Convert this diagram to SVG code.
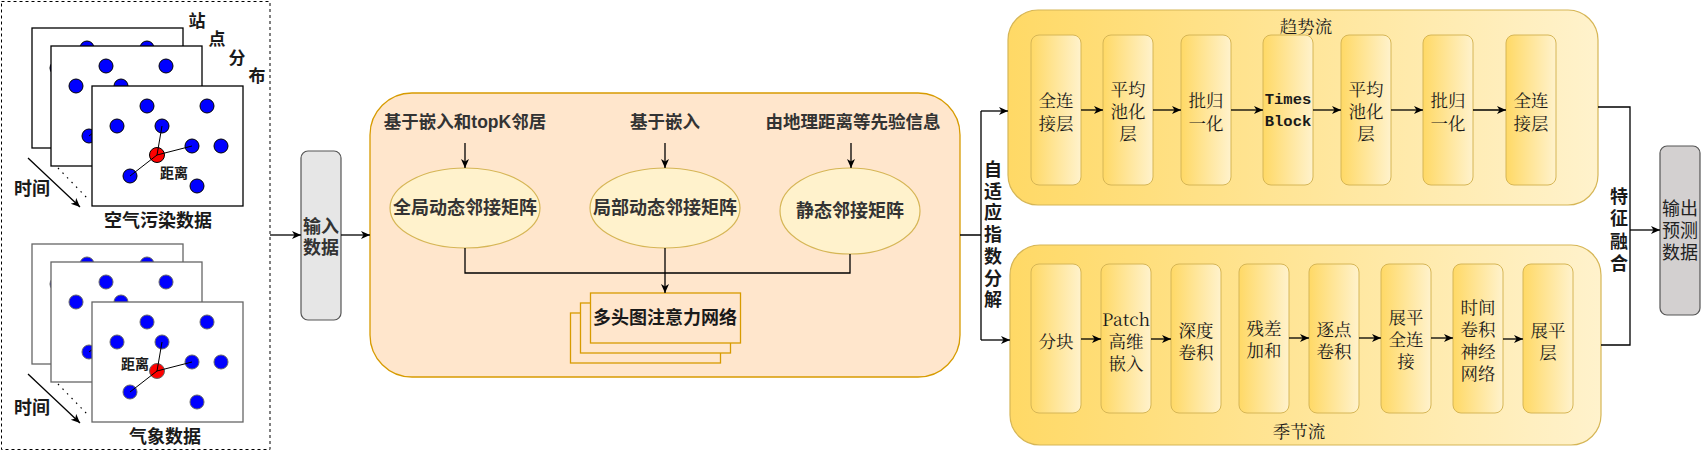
<svg xmlns="http://www.w3.org/2000/svg" xmlns:xlink="http://www.w3.org/1999/xlink" width="1702" height="457" viewBox="0 0 1702 457">
<defs>
  <style>
    .sb{font-family:"Liberation Sans","Noto Sans CJK SC",sans-serif;font-weight:bold;fill:#1a1a1a;}
    .sg{font-family:"Liberation Sans","Noto Sans CJK SC",sans-serif;font-weight:bold;fill:#333;}
    .sn{font-family:"Liberation Sans","Noto Sans CJK SC",sans-serif;font-weight:normal;fill:#222;}
    .sr{font-family:"Noto Serif CJK SC","Liberation Serif","Noto Sans CJK SC",serif;font-size:17.5px;fill:#1a1a1a;}
    .mono{font-family:"Liberation Mono","Noto Sans CJK SC",monospace;font-weight:bold;font-size:15.5px;fill:#1a1a1a;}
    .c{text-anchor:middle;dominant-baseline:central;}
    .ln{fill:none;stroke:#000;stroke-width:1.3;}
    .arr{fill:none;stroke:#000;stroke-width:1.3;marker-end:url(#ah);}
    .ell{fill:#fff2cc;stroke:#d6b656;stroke-width:1.2;}
    .mh{fill:#ffe6cc;stroke:#d79b00;stroke-width:1.3;}
    .panel{fill:url(#gy);stroke:#d6b656;stroke-width:1.2;}
    .ib{fill:url(#gy);stroke:#d6b656;stroke-width:1;}
    .dot{fill:#0000ff;}
  </style>
  <linearGradient id="gy" x1="0" y1="0" x2="1" y2="0">
    <stop offset="0" stop-color="#ffd966"/>
    <stop offset="1" stop-color="#fff2cc"/>
  </linearGradient>
  <marker id="ah" markerUnits="userSpaceOnUse" markerWidth="10" markerHeight="10" refX="9" refY="5" orient="auto">
    <path d="M0,1 L9,5 L0,9 L2.5,5 z" fill="#000"/>
  </marker>
  <g id="frame">
    <rect x="0" y="0" width="151" height="120" fill="#fff" stroke-width="1.3"/>
    <circle class="dot" cx="55" cy="20" r="7"/>
    <circle class="dot" cx="115" cy="20" r="7"/>
    <circle class="dot" cx="25" cy="40" r="7"/>
    <circle class="dot" cx="70" cy="40" r="7"/>
    <circle class="dot" cx="100" cy="60" r="7"/>
    <circle class="dot" cx="129" cy="60" r="7"/>
    <circle class="dot" cx="38" cy="90" r="7"/>
    <circle class="dot" cx="105" cy="100" r="7"/>
    <circle cx="65" cy="69" r="7.5" fill="#ff0000"/>
    <path d="M65,69 L70,40 M65,69 L100,60 M65,69 L38,90" stroke="#000" stroke-width="1" fill="none"/>
  </g>
</defs>
<rect width="1702" height="457" fill="#fff"/>

<!-- Left input illustration -->
<g id="data-illustration">
  <rect x="1.5" y="1.5" width="268.5" height="448" fill="none" stroke="#000" stroke-width="1" stroke-dasharray="3 3"/>
  <g stroke="#000">
    <use xlink:href="#frame" x="32" y="28"/>
    <use xlink:href="#frame" x="51" y="46"/>
    <use xlink:href="#frame" x="92" y="86"/>
  </g>
  <g stroke="#666">
    <use xlink:href="#frame" x="32" y="244"/>
    <use xlink:href="#frame" x="51" y="262"/>
    <use xlink:href="#frame" x="92" y="302"/>
  </g>
  <text class="sb c" x="174" y="173" font-size="14">距离</text>
  <text class="sb c" x="135" y="364" font-size="14">距离</text>
  <g class="sb c" font-size="17">
    <text x="197" y="21">站</text>
    <text x="217" y="39">点</text>
    <text x="237" y="58">分</text>
    <text x="257" y="76">布</text>
  </g>
  <g class="sb c" font-size="18">
    <text x="32" y="189">时间</text>
    <text x="32" y="408">时间</text>
    <text x="158" y="221">空气污染数据</text>
    <text x="165" y="437">气象数据</text>
  </g>
  <path class="arr" d="M28,158 L80,207"/>
  <path class="arr" d="M28,374 L80,423"/>
  <path d="M58,168 L88,199 M58,384 L88,415" stroke="#000" stroke-width="1.2" stroke-dasharray="1.5 5" fill="none"/>
</g>

<!-- Input node -->
<g id="input-node">
  <rect x="301" y="151" width="40" height="169" rx="7" fill="#e6e6e6" stroke="#555" stroke-width="1.2"/>
  <text class="sg c" x="321" y="227" font-size="18"><tspan x="321" y="227">输入</tspan><tspan x="321" y="248">数据</tspan></text>
</g>

<!-- Graph panel -->
<g id="graph-panel">
  <rect x="370" y="93" width="590" height="284" rx="42" fill="#ffe6cc" stroke="#d79b00" stroke-width="1.3"/>
  <text class="sg c" x="465" y="122" font-size="17.5">基于嵌入和topK邻居</text>
  <text class="sg c" x="665" y="122" font-size="17.5">基于嵌入</text>
  <text class="sg c" x="853" y="122" font-size="17.5">由地理距离等先验信息</text>
</g>
<g id="global-adj">
  <ellipse class="ell" cx="465" cy="208" rx="75" ry="40"/>
  <text class="sg c" x="465" y="208" font-size="18">全局动态邻接矩阵</text>
</g>
<g id="local-adj">
  <ellipse class="ell" cx="665" cy="208" rx="75" ry="40"/>
  <text class="sg c" x="665" y="208" font-size="18">局部动态邻接矩阵</text>
</g>
<g id="static-adj">
  <ellipse class="ell" cx="850" cy="211" rx="70" ry="43"/>
  <text class="sg c" x="850" y="211" font-size="18">静态邻接矩阵</text>
</g>
<g id="multihead-gat">
  <rect class="mh" x="570.5" y="313" width="150" height="50"/>
  <rect class="mh" x="580.5" y="303" width="150" height="50"/>
  <rect class="mh" x="590.5" y="293" width="150" height="50"/>
  <text class="sb c" x="665" y="318" font-size="18">多头图注意力网络</text>
</g>

<!-- Decomposition label -->
<g id="decomp-label">
  <text class="sb c" font-size="18"><tspan x="993" y="170">自</tspan><tspan x="993" y="192">适</tspan><tspan x="993" y="213">应</tspan><tspan x="993" y="235">指</tspan><tspan x="993" y="257">数</tspan><tspan x="993" y="279">分</tspan><tspan x="993" y="300">解</tspan></text>
</g>

<!-- Trend stream -->
<g id="trend-stream">
  <rect class="panel" x="1008" y="10" width="590" height="195" rx="30"/>
  <text class="sr c" x="1306" y="25">趋势流</text>
</g>
<g id="t1"><rect class="ib" x="1031" y="35" width="50" height="150" rx="8"/>
  <text class="sr c"><tspan x="1056" y="99">全连</tspan><tspan x="1056" y="122">接层</tspan></text></g>
<g id="t2"><rect class="ib" x="1103" y="35" width="50" height="150" rx="8"/>
  <text class="sr c"><tspan x="1128" y="88">平均</tspan><tspan x="1128" y="110">池化</tspan><tspan x="1128" y="132">层</tspan></text></g>
<g id="t3"><rect class="ib" x="1181" y="35" width="50" height="150" rx="8"/>
  <text class="sr c"><tspan x="1206" y="99">批归</tspan><tspan x="1206" y="122">一化</tspan></text></g>
<g id="t4"><rect class="ib" x="1263" y="35" width="50" height="150" rx="8"/>
  <text class="mono c"><tspan x="1288" y="100">Times</tspan><tspan x="1288" y="122">Block</tspan></text></g>
<g id="t5"><rect class="ib" x="1341" y="35" width="50" height="150" rx="8"/>
  <text class="sr c"><tspan x="1366" y="88">平均</tspan><tspan x="1366" y="110">池化</tspan><tspan x="1366" y="132">层</tspan></text></g>
<g id="t6"><rect class="ib" x="1423" y="35" width="50" height="150" rx="8"/>
  <text class="sr c"><tspan x="1448" y="99">批归</tspan><tspan x="1448" y="122">一化</tspan></text></g>
<g id="t7"><rect class="ib" x="1506" y="35" width="50" height="150" rx="8"/>
  <text class="sr c"><tspan x="1531" y="99">全连</tspan><tspan x="1531" y="122">接层</tspan></text></g>

<!-- Seasonal stream -->
<g id="season-stream">
  <rect class="panel" x="1010" y="245" width="591" height="200" rx="30"/>
  <text class="sr c" x="1299" y="430">季节流</text>
</g>
<g id="s1"><rect class="ib" x="1031" y="264" width="50" height="149" rx="8"/>
  <text class="sr c" x="1056" y="340">分块</text></g>
<g id="s2"><rect class="ib" x="1101" y="264" width="50" height="149" rx="8"/>
  <text class="sr c"><tspan x="1126" y="318">Patch</tspan><tspan x="1126" y="340">高维</tspan><tspan x="1126" y="362">嵌入</tspan></text></g>
<g id="s3"><rect class="ib" x="1171" y="264" width="50" height="149" rx="8"/>
  <text class="sr c"><tspan x="1196" y="329">深度</tspan><tspan x="1196" y="351">卷积</tspan></text></g>
<g id="s4"><rect class="ib" x="1239" y="264" width="50" height="149" rx="8"/>
  <text class="sr c"><tspan x="1264" y="327">残差</tspan><tspan x="1264" y="349">加和</tspan></text></g>
<g id="s5"><rect class="ib" x="1309" y="264" width="50" height="149" rx="8"/>
  <text class="sr c"><tspan x="1334" y="328">逐点</tspan><tspan x="1334" y="350">卷积</tspan></text></g>
<g id="s6"><rect class="ib" x="1381" y="264" width="50" height="149" rx="8"/>
  <text class="sr c"><tspan x="1406" y="316">展平</tspan><tspan x="1406" y="338">全连</tspan><tspan x="1406" y="360">接</tspan></text></g>
<g id="s7"><rect class="ib" x="1453" y="264" width="50" height="149" rx="8"/>
  <text class="sr c"><tspan x="1478" y="306">时间</tspan><tspan x="1478" y="328">卷积</tspan><tspan x="1478" y="350">神经</tspan><tspan x="1478" y="372">网络</tspan></text></g>
<g id="s8"><rect class="ib" x="1523" y="264" width="50" height="149" rx="8"/>
  <text class="sr c"><tspan x="1548" y="329">展平</tspan><tspan x="1548" y="351">层</tspan></text></g>

<!-- Fusion label -->
<g id="fusion-label">
  <text class="sb c" font-size="18"><tspan x="1619" y="197">特</tspan><tspan x="1619" y="219">征</tspan><tspan x="1619" y="242">融</tspan><tspan x="1619" y="264">合</tspan></text>
</g>

<!-- Output node -->
<g id="output-node">
  <rect x="1660" y="146" width="40" height="169" rx="7" fill="#d3d0d0" stroke="#555" stroke-width="1.2"/>
  <text class="sn c" font-size="18"><tspan x="1680" y="209">输出</tspan><tspan x="1680" y="231">预测</tspan><tspan x="1680" y="253">数据</tspan></text>
</g>

<!-- Connectors -->
<g id="connectors">
  <path class="arr" d="M270,235 H301" stroke="#555"/>
  <path class="arr" d="M341,235 H370"/>
  <path class="arr" d="M465,143 V168"/>
  <path class="arr" d="M665,143 V168"/>
  <path class="arr" d="M851,143 V168"/>
  <path class="ln" d="M465,248 V273 H850 V254"/>
  <path class="arr" d="M665,248 V293"/>
  <path class="ln" d="M960,235 H981 M981,111 V340"/>
  <path class="arr" d="M981,111 H1008"/>
  <path class="arr" d="M981,340 H1010"/>
  <path class="arr" d="M1081,110 H1103"/>
  <path class="arr" d="M1153,110 H1181"/>
  <path class="arr" d="M1231,110 H1263"/>
  <path class="arr" d="M1313,110 H1341"/>
  <path class="arr" d="M1391,110 H1423"/>
  <path class="arr" d="M1473,110 H1506"/>
  <path class="arr" d="M1081,339 H1101"/>
  <path class="arr" d="M1151,339 H1171"/>
  <path class="arr" d="M1289,338 H1309"/>
  <path class="arr" d="M1359,338 H1381"/>
  <path class="arr" d="M1431,338 H1453"/>
  <path class="arr" d="M1503,339 H1523"/>
  <path class="ln" d="M1598,107 H1630 V345 H1601"/>
  <path class="arr" d="M1630,230 H1660"/>
</g>
</svg>
